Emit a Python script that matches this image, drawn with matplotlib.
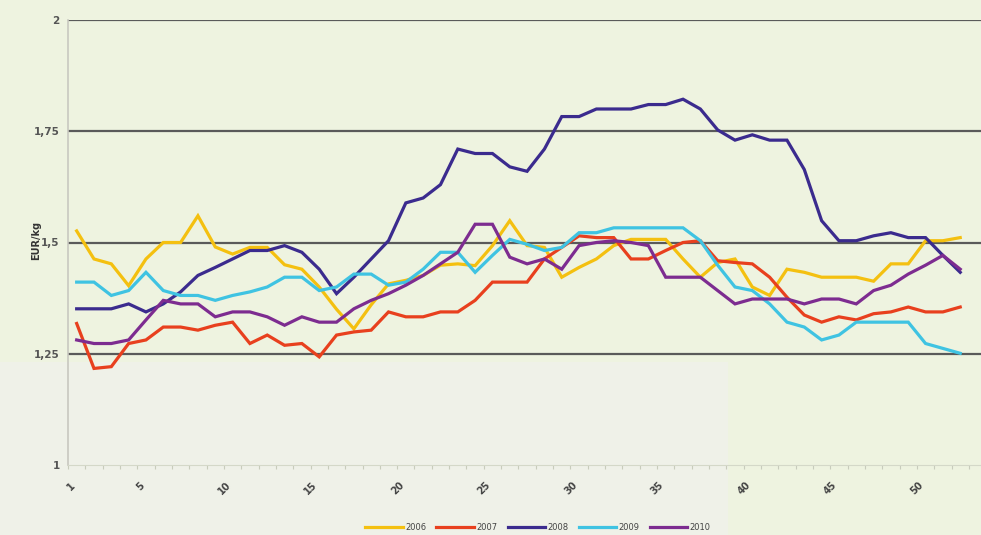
import numpy as np
import matplotlib
matplotlib.use("Agg")
from matplotlib import pyplot as plt
from matplotlib.patches import Rectangle

# weekly prices, EUR/kg
weeks = list(range(1, 53))
tick_weeks = [1, 5, 10, 15, 20, 25, 30, 35, 40, 45, 50]

p2006 = [1.526, 1.463, 1.452, 1.403, 1.463, 1.50, 1.50, 1.56, 1.49, 1.474,
         1.489, 1.489, 1.45, 1.44, 1.40, 1.35, 1.306, 1.36, 1.407, 1.415,
         1.426, 1.449, 1.452, 1.448, 1.493, 1.549, 1.493, 1.489, 1.422, 1.444,
         1.463, 1.493, 1.507, 1.507, 1.507, 1.463, 1.422, 1.455, 1.463, 1.40,
         1.381, 1.44, 1.433, 1.422, 1.422, 1.422, 1.413, 1.452, 1.452, 1.504,
         1.504, 1.511]
p2007 = [1.318, 1.217, 1.221, 1.273, 1.281, 1.31, 1.31, 1.303, 1.314, 1.321,
         1.273, 1.292, 1.269, 1.273, 1.243, 1.292, 1.299, 1.303, 1.344, 1.333,
         1.333, 1.344, 1.344, 1.37, 1.411, 1.411, 1.411, 1.463, 1.489, 1.515,
         1.511, 1.511, 1.463, 1.463, 1.482, 1.50, 1.504, 1.459, 1.455, 1.452,
         1.422, 1.377, 1.337, 1.321, 1.333, 1.326, 1.34, 1.344, 1.355, 1.344,
         1.344, 1.355]
p2008 = [1.351, 1.351, 1.351, 1.362, 1.344, 1.362, 1.389, 1.426, 1.444, 1.463,
         1.482, 1.482, 1.493, 1.478, 1.44, 1.385, 1.422, 1.463, 1.504, 1.589,
         1.60, 1.63, 1.71, 1.70, 1.70, 1.67, 1.66, 1.71, 1.783, 1.783,
         1.80, 1.80, 1.80, 1.81, 1.81, 1.822, 1.80, 1.753, 1.73, 1.742,
         1.73, 1.73, 1.664, 1.549, 1.504, 1.504, 1.515, 1.522, 1.511, 1.511,
         1.471, 1.433]
p2009 = [1.411, 1.411, 1.381, 1.392, 1.433, 1.392, 1.381, 1.381, 1.37, 1.381,
         1.389, 1.40, 1.422, 1.422, 1.392, 1.40, 1.429, 1.429, 1.404, 1.411,
         1.44, 1.478, 1.478, 1.433, 1.471, 1.507, 1.496, 1.482, 1.489, 1.522,
         1.522, 1.533, 1.533, 1.533, 1.533, 1.533, 1.504, 1.449, 1.40, 1.392,
         1.362, 1.321, 1.31, 1.281, 1.292, 1.321, 1.321, 1.321, 1.321, 1.273,
         1.262, 1.251]
p2010 = [1.281, 1.273, 1.273, 1.281, 1.326, 1.37, 1.362, 1.362, 1.333, 1.344,
         1.344, 1.333, 1.314, 1.333, 1.321, 1.321, 1.351, 1.37, 1.385, 1.404,
         1.426, 1.452, 1.478, 1.541, 1.541, 1.467, 1.452, 1.463, 1.44, 1.493,
         1.50, 1.504, 1.50, 1.493, 1.422, 1.422, 1.422, 1.392, 1.362, 1.373,
         1.373, 1.373, 1.362, 1.373, 1.373, 1.362, 1.392, 1.404, 1.429, 1.449,
         1.471, 1.44]

series = [("2006", p2006, "#f4c010"),
          ("2007", p2007, "#e8401e"),
          ("2008", p2008, "#3b2b8e"),
          ("2009", p2009, "#3fc3e2"),
          ("2010", p2010, "#7d2c90")]

bg = "#eef3e0"
W, H = 981, 535
fig = plt.figure(figsize=(W / 100, H / 100), dpi=100, facecolor=bg)

# lighter patch in the lower left of the original scan
fig.patches.append(Rectangle((0, 0), 728 / W, (H - 362) / H, transform=fig.transFigure,
                             facecolor="#eff1e8", edgecolor="none", zorder=-1))

ax = fig.add_axes([68 / W, (H - 465) / H, (W - 68) / W, 445 / H])
ax.set_facecolor("none")
ax.set_zorder(2)

for name, vals, col in series:
    ax.plot(weeks, vals, color=col, lw=2.3, label=name, zorder=3, solid_joinstyle="miter")

ax.set_ylim(1, 2)
ax.set_xlim(0.5, 53.2)
ax.set_yticks([1, 1.25, 1.5, 1.75, 2])
ax.set_yticklabels(["1", "1,25", "1,5", "1,75", "2"])
for v in [1.25, 1.5, 1.75, 2]:
    ax.axhline(v, color="#5a5a5a", lw=1.6, zorder=1)

ax.set_xticks(tick_weeks)
ax.set_xticklabels([str(w) for w in tick_weeks], rotation=45, ha="right", va="top")
ax.set_xticks(np.arange(0.5, 53, 1), minor=True)
ax.tick_params(axis="x", which="major", length=0, pad=11, labelsize=7, colors="#444444")
ax.tick_params(axis="x", which="minor", length=3, color="#c8ccbc", width=0.8)
ax.tick_params(axis="y", length=0, pad=6, labelsize=7.5, colors="#555555")
for lab in ax.get_yticklabels() + ax.get_xticklabels():
    lab.set_fontweight("bold")

for s in ["top", "right"]:
    ax.spines[s].set_visible(False)
ax.spines["left"].set_color("#c8c8c0")
ax.spines["left"].set_linewidth(1.2)
ax.spines["bottom"].set_color("#d4d8c8")
ax.spines["bottom"].set_linewidth(0.8)

fig.text(36 / W, 1 - 240 / H, "EUR/kg", rotation=90, ha="center", va="center",
         fontsize=7, fontweight="bold", color="#333333")

fig.legend(loc="center", bbox_to_anchor=(538 / W, 1 - 527 / H), ncol=5, frameon=False,
           fontsize=6, handlelength=4.5, columnspacing=1.2, handletextpad=0.3,
           labelcolor="#444444")

fig.savefig("out.png", dpi=100, facecolor=bg)
